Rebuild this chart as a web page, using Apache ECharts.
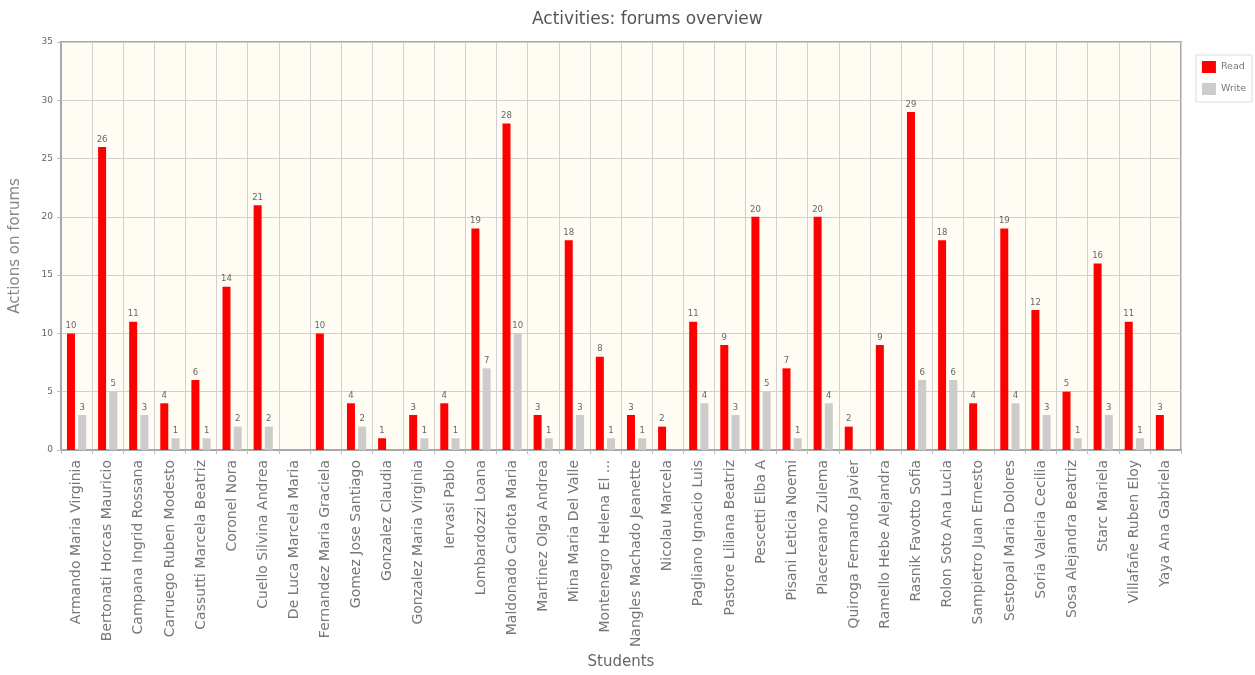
<!DOCTYPE html>
<html>
<head>
<meta charset="utf-8">
<script src="https://cdn.jsdelivr.net/npm/echarts@6/dist/echarts.min.js"></script>
<style>
  html, body { margin: 0; padding: 0; background: #fff; }
  #chart { width: 1255px; height: 675px; }
</style>
</head>
<body>
<div id="chart"></div>
<script>
let students = [
    "Armando Maria Virginia", "Bertonati Horcas Mauricio", "Campana Ingrid Rossana",
    "Carruego Ruben Modesto", "Cassutti Marcela Beatriz", "Coronel Nora",
    "Cuello Silvina Andrea", "De Luca Marcela Maria", "Fernandez Maria Graciela",
    "Gomez Jose Santiago", "Gonzalez Claudia", "Gonzalez Maria Virginia",
    "Iervasi Pablo", "Lombardozzi Loana", "Maldonado Carlota Maria",
    "Martinez Olga Andrea", "Mina Maria Del Valle", "Montenegro Helena El ...",
    "Nangles Machado Jeanette", "Nicolau Marcela", "Pagliano Ignacio Luis",
    "Pastore Liliana Beatriz", "Pescetti Elba A", "Pisani Leticia Noemi",
    "Placereano Zulema", "Quiroga Fernando Javier", "Ramello Hebe Alejandra",
    "Rasnik Favotto Sofia", "Rolon Soto Ana Lucia", "Sampietro Juan Ernesto",
    "Sestopal Maria Dolores", "Soria Valeria Cecilia", "Sosa Alejandra Beatriz",
    "Starc Mariela", "Villafañe Ruben Eloy", "Yaya Ana Gabriela"
];
let readCounts = [10, 26, 11, 4, 6, 14, 21, 0, 10, 4, 1, 3, 4, 19, 28, 3, 18, 8, 3, 2,
    11, 9, 20, 7, 20, 2, 9, 29, 18, 4, 19, 12, 5, 16, 11, 3];
let writeCounts = [3, 5, 3, 1, 1, 2, 2, 0, 0, 2, 0, 1, 1, 7, 10, 1, 3, 1, 1, 0,
    4, 3, 5, 1, 4, 0, 0, 6, 6, 0, 4, 3, 1, 3, 1, 0];

let font = "DejaVu Sans";

function barLabel() {
    return {
        show: true,
        position: "top",
        distance: 3,
        fontSize: 8.5,
        fontFamily: font,
        color: "#666",
        formatter: function (p) {
            return p.value === 0 ? "" : p.value;
        }
    };
}

let chart = echarts.init(document.getElementById("chart"));
let option = {
    animation: false,
    title: {
        text: "Activities: forums overview",
        left: 527,
        top: 6,
        textStyle: {
            fontFamily: font,
            fontSize: 17,
            fontWeight: "normal",
            color: "#555"
        }
    },
    legend: {
        orient: "vertical",
        right: 3,
        top: 55,
        padding: [6, 6, 7, 6],
        itemGap: 10,
        itemWidth: 14,
        itemHeight: 12,
        icon: "rect",
        borderColor: "#ddd",
        borderWidth: 1,
        textStyle: {
            fontFamily: font,
            fontSize: 9.5,
            color: "#777"
        },
        data: ["Read", "Write"]
    },
    grid: {
        show: true,
        left: 61,
        right: 74,
        top: 42,
        bottom: 222,
        backgroundColor: "#fffcf4",
        borderColor: "#a8a8a8",
        borderWidth: 2
    },
    xAxis: {
        type: "category",
        data: students,
        name: "Students",
        nameLocation: "middle",
        nameGap: 204,
        nameTextStyle: {
            fontFamily: font,
            fontSize: 15,
            color: "#666"
        },
        axisLine: { lineStyle: { color: "#a8a8a8", width: 2 } },
        axisTick: { show: true, length: 4, lineStyle: { color: "#bbb" } },
        splitLine: { show: true, lineStyle: { color: "#d0d0d0" } },
        axisLabel: {
            rotate: 90,
            interval: 0,
            margin: 10,
            fontFamily: font,
            fontSize: 14,
            color: "#777"
        }
    },
    yAxis: {
        type: "value",
        min: 0,
        max: 35,
        interval: 5,
        name: "Actions on forums",
        nameLocation: "middle",
        nameGap: 38,
        nameTextStyle: {
            fontFamily: font,
            fontSize: 15,
            color: "#888"
        },
        axisLine: { show: true, lineStyle: { color: "#a8a8a8", width: 2 } },
        axisTick: { show: true, length: 4, lineStyle: { color: "#bbb" } },
        splitLine: { show: true, lineStyle: { color: "#d0d0d0" } },
        axisLabel: {
            fontFamily: font,
            fontSize: 9,
            color: "#666",
            margin: 8
        }
    },
    series: [
        {
            name: "Read",
            type: "bar",
            data: readCounts,
            barWidth: 8,
            barGap: "40%",
            itemStyle: { color: "#ff0000" },
            label: barLabel()
        },
        {
            name: "Write",
            type: "bar",
            data: writeCounts,
            barWidth: 8,
            itemStyle: { color: "#cccccc" },
            label: barLabel()
        }
    ]
};
chart.setOption(option);
</script>
</body>
</html>
